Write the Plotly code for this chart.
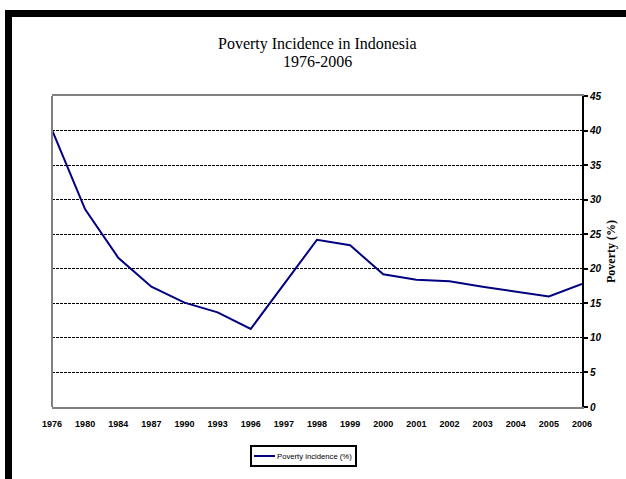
import plotly.graph_objects as go

# Poverty incidence in Indonesia, percent of population
years = ["1976", "1980", "1984", "1987", "1990", "1993", "1996", "1997", "1998",
         "1999", "2000", "2001", "2002", "2003", "2004", "2005", "2006"]
poverty = [40.1, 28.6, 21.6, 17.4, 15.1, 13.7, 11.3, 17.7, 24.2,
           23.4, 19.2, 18.4, 18.2, 17.4, 16.7, 16.0, 17.8]
y_ticks = [0, 5, 10, 15, 20, 25, 30, 35, 40, 45]
series_name = "Poverty incidence (%)"
line_color = "#000080"

W, H = 626, 479
L, R, T, B = 52, 44, 96, 72
PW, PH = W - L - R, H - T - B


def px_x(p):
    return (p - L) / PW


def px_y(p):
    return (H - B - p) / PH


fig = go.Figure()
fig.add_trace(go.Scatter(
    x=years, y=poverty, mode="lines", name=series_name,
    line=dict(color=line_color, width=2),
))

sans = "Liberation Sans, Arial"
serif = "Liberation Serif, Times New Roman"

fig.update_layout(
    width=W, height=H,
    margin=dict(l=L, r=R, t=T, b=B, autoexpand=False),
    paper_bgcolor="white", plot_bgcolor="white",
    showlegend=False,
    xaxis=dict(
        type="category", range=[0, len(years) - 1], automargin=False,
        showline=True, linecolor="#808080", linewidth=2, mirror=True,
        showgrid=False, ticks="", ticklabelstandoff=7,
        tickfont=dict(family=sans, size=9, color="black", weight="bold"),
        fixedrange=True,
    ),
    yaxis=dict(
        side="right", range=[0, 45], tickvals=y_ticks, automargin=False,
        showline=True, linecolor="black", linewidth=2,
        ticks="outside", ticklen=4, tickwidth=1.5, tickcolor="black",
        showgrid=True, gridcolor="black", gridwidth=1, griddash="3px,1px",
        zeroline=False,
        tickfont=dict(family=sans, size=10, color="black",
                      weight="bold", style="italic"),
        title=dict(text="Poverty (%)", standoff=6,
                   font=dict(family=serif, size=12, color="black", weight="bold")),
        fixedrange=True,
    ),
    annotations=[
        dict(text="Poverty Incidence in Indonesia", xref="paper", yref="paper",
             x=0.5, y=px_y(44), xanchor="center", yanchor="middle", showarrow=False,
             font=dict(family=serif, size=16, color="black")),
        dict(text="1976-2006", xref="paper", yref="paper",
             x=0.5, y=px_y(61), xanchor="center", yanchor="middle", showarrow=False,
             font=dict(family=serif, size=16, color="black")),
        # legend label
        dict(text=series_name, xref="paper", yref="paper",
             x=px_x(275), y=px_y(456), xanchor="left", yanchor="middle",
             showarrow=False,
             font=dict(family=sans, size=7.7, color="black")),
    ],
    shapes=[
        # gray left edge of the plot frame
        dict(type="line", xref="paper", yref="paper", x0=0, x1=0, y0=0, y1=1,
             line=dict(color="#808080", width=2)),
        # heavy black frame along the top and left of the page
        dict(type="rect", xref="paper", yref="paper",
             x0=px_x(5), x1=px_x(W + 5), y0=px_y(17), y1=px_y(10),
             fillcolor="black", line=dict(width=0)),
        dict(type="rect", xref="paper", yref="paper",
             x0=px_x(5), x1=px_x(12), y0=px_y(H + 5), y1=px_y(10),
             fillcolor="black", line=dict(width=0)),
        # legend box and line sample
        dict(type="rect", xref="paper", yref="paper",
             x0=px_x(251), x1=px_x(356), y0=px_y(466), y1=px_y(446),
             fillcolor="white", line=dict(color="black", width=2)),
        dict(type="line", xref="paper", yref="paper",
             x0=px_x(254), x1=px_x(275), y0=px_y(456), y1=px_y(456),
             line=dict(color=line_color, width=2)),
    ],
)

fig.write_html("out.html")
